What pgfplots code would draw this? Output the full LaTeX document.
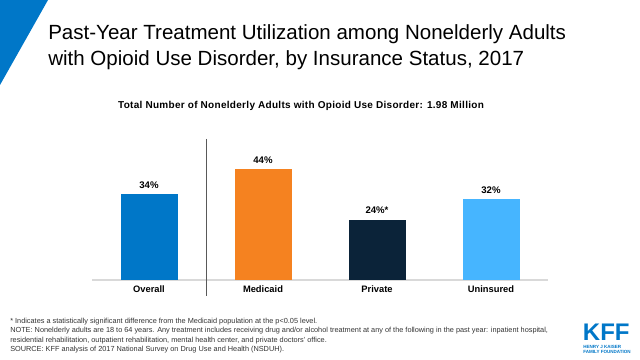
\documentclass[border=0pt]{standalone}
\usepackage{pgfplots}
\pgfplotsset{compat=1.18}
\usepackage{fontspec}
\setmainfont{Liberation Sans}
\definecolor{kffblue}{HTML}{0077C8}
\definecolor{kfforange}{HTML}{F58220}
\definecolor{kffnavy}{HTML}{0B2339}
\definecolor{kfflight}{HTML}{46B5FF}
\definecolor{basegray}{HTML}{D9D9D9}
\definecolor{notegray}{HTML}{333333}
\begin{document}
\begin{tikzpicture}
\path[use as bounding box, fill=white] (0,0) rectangle (480pt,-270pt);
% corner triangle
\fill[kffblue] (0,0) -- (36pt,0) -- (0,-63.75pt) -- cycle;
% title
\node[anchor=base west, inner sep=0pt] at (36pt,-30pt) {\fontsize{15.4}{18}\selectfont Past-Year Treatment Utilization among Nonelderly Adults};
\node[anchor=base west, inner sep=0pt] at (36pt,-49.5pt) {\fontsize{15.4}{18}\selectfont with Opioid Use Disorder, by Insurance Status, 2017};
% subtitle
\node[anchor=base, inner sep=0pt] at (225.75pt,-81.2pt) {\fontsize{7.5}{8}\selectfont\bfseries\addfontfeatures{LetterSpace=3}Total Number of Nonelderly Adults with Opioid Use Disorder: 1.98 Million};
\begin{axis}[
  at={(69pt,-210pt)}, anchor=south west,
  scale only axis, width=342pt, height=113.4pt,
  xmin=-0.5, xmax=3.5, ymin=0, ymax=60,
  axis x line=bottom, axis y line=none,
  x axis line style={draw=basegray, line width=0.8pt, -},
  xtick={0,1,2,3},
  xticklabels={Overall,Medicaid,Private,Uninsured},
  major tick length=0pt,
  xticklabel style={font=\fontsize{7}{8}\selectfont\bfseries, yshift=-1pt},
  ybar, bar width=42.75pt, bar shift=0pt,
  clip=false,
  nodes near coords,
  point meta=explicit symbolic,
  every node near coord/.append style={font=\fontsize{7.2}{8}\selectfont\bfseries, yshift=1pt},
]
\addplot[fill=kffblue, draw=none] coordinates {(0,34) [34\%]};
\addplot[fill=kfforange, draw=none] coordinates {(1,44) [44\%]};
\addplot[fill=kffnavy, draw=none] coordinates {(2,24) [24\%*]};
\addplot[fill=kfflight, draw=none] coordinates {(3,32) [32\%]};
\draw[color=black!65, line width=0.6pt] (axis cs:0.5,56) -- (axis cs:0.5,-6.3);
\end{axis}
% footnotes
\begin{scope}[every node/.style={anchor=base west, inner sep=0pt, text=notegray, font=\fontsize{5.5}{6}\selectfont}]
\node at (7.5pt,-242.25pt) {* Indicates a statistically significant difference from the Medicaid population at the p<0.05 level.};
\node at (7.5pt,-249.4pt) {NOTE: Nonelderly adults are 18 to 64 years. Any treatment includes receiving drug and/or alcohol treatment at any of the following in the past year: inpatient hospital,};
\node at (7.5pt,-256.5pt) {residential rehabilitation, outpatient rehabilitation, mental health center, and private doctors' office.};
\node at (7.5pt,-263.6pt) {SOURCE: KFF analysis of 2017 National Survey on Drug Use and Health (NSDUH).};
\end{scope}
% logo
\node[anchor=base west, inner sep=0pt, text=kffblue] at (437pt,-255pt) {\fontsize{18}{18}\selectfont\bfseries KFF};
\node[anchor=base west, inner sep=0pt, text=kffblue] at (437.3pt,-261pt) {\fontsize{3.4}{4}\selectfont\bfseries HENRY J KAISER};
\node[anchor=base west, inner sep=0pt, text=kffblue] at (437.3pt,-265pt) {\fontsize{3.4}{4}\selectfont\bfseries FAMILY FOUNDATION};
\end{tikzpicture}
\end{document}
